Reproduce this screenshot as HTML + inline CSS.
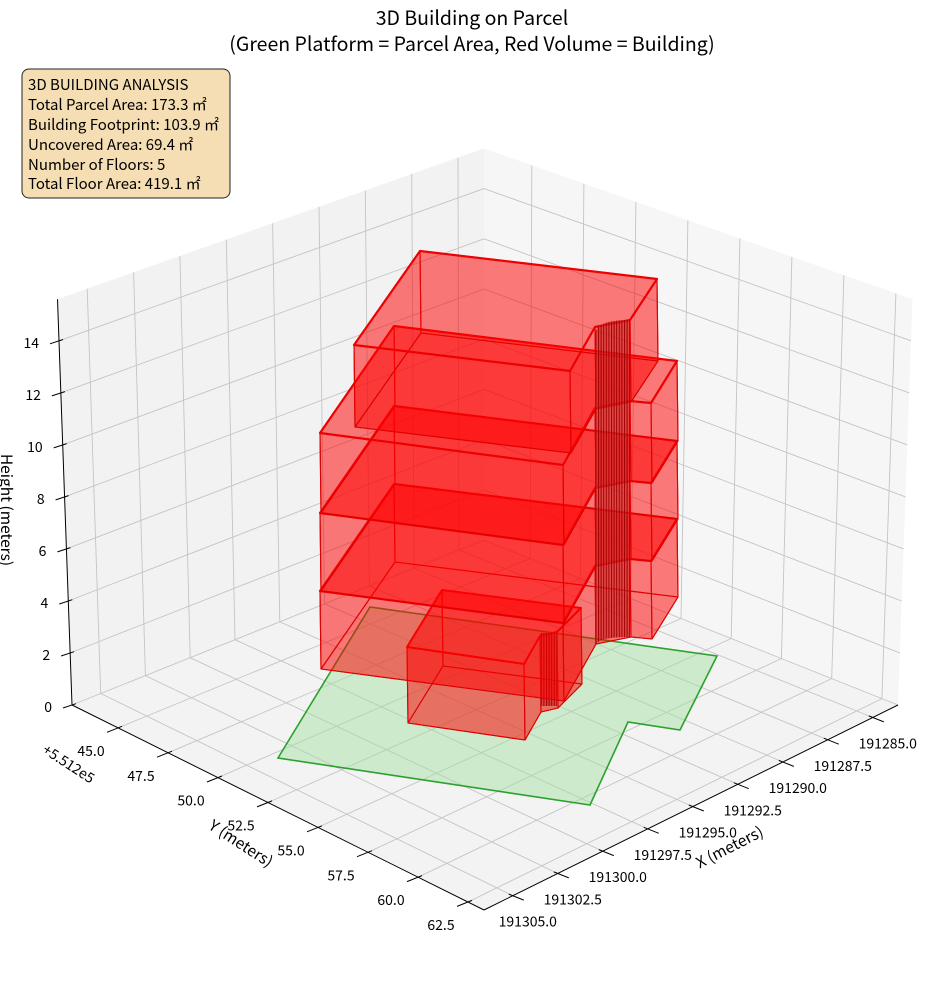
<!DOCTYPE html>
<html><head><meta charset="utf-8">
<style>
html,body{margin:0;padding:0;background:#fff;}
svg{display:block;font-family:"Noto Sans CJK JP","Liberation Sans",sans-serif;}
</style></head>
<body>
<svg id="s" width="944" height="992" viewBox="0 0 944 992" xmlns="http://www.w3.org/2000/svg">
<defs>
<pattern id="stripes" width="2.6" height="10" patternUnits="userSpaceOnUse">
<rect width="2.6" height="10" fill="rgba(210,40,40,0.6)"/>
<rect width="1" height="10" fill="#a00000"/>
</pattern>
</defs>
<g id="panes"></g>
<g id="grid" stroke="#c4c4c4" stroke-width="0.9" fill="none"></g>
<g id="axes"></g>

<polygon points="370,607 717,656 680,730 628,722 590,805 278,758" fill="rgba(160,225,160,0.45)" stroke="#2ca02c" stroke-width="1.6"/>

<g id="bld" stroke-linejoin="round"></g>

<text x="472" y="25" text-anchor="middle" font-size="19.5" fill="#000">3D Building on Parcel</text>
<text x="472" y="51" text-anchor="middle" font-size="19.5" fill="#000">(Green Platform = Parcel Area, Red Volume = Building)</text>

<rect x="22" y="69" width="208" height="129" rx="7" ry="7" fill="#f5deb3" stroke="#222" stroke-width="1"/>
<g font-size="15" fill="#000">
<text x="28" y="90">3D BUILDING ANALYSIS</text>
<text x="28" y="110">Total Parcel Area: 173.3 ㎡</text>
<text x="28" y="130">Building Footprint: 103.9 ㎡</text>
<text x="28" y="150">Uncovered Area: 69.4 ㎡</text>
<text x="28" y="170">Number of Floors: 5</text>
<text x="28" y="189">Total Floor Area: 419.1 ㎡</text>
</g>

<text transform="translate(1,510) rotate(90)" text-anchor="middle" font-size="15.5">Height (meters)</text>
<text transform="translate(238,848) rotate(33)" text-anchor="middle" font-size="15.5">Y (meters)</text>
<text transform="translate(732,852) rotate(-27)" text-anchor="middle" font-size="15.5">X (meters)</text>
<text transform="translate(66,768) rotate(33)" text-anchor="middle" font-size="14">+5.512e5</text>
</svg>
<script>
(function(){
var NS="http://www.w3.org/2000/svg";
function el(tag,attrs,parent,txt){var e=document.createElementNS(NS,tag);for(var k in attrs)e.setAttribute(k,attrs[k]);if(txt!==undefined)e.textContent=txt;parent.appendChild(e);return e;}
var L=[72,705],F=[484,910],R=[898,705],B=[484,540];
var ymin=42.7,ymax=63.3,xmin=191283.6,xmax=191306.6,zmax=15.6;
function P(x,y,z){
 var u=(y-ymin)/(ymax-ymin), v=(xmax-x)/(xmax-xmin);
 var px=(1-u)*(1-v)*L[0]+u*(1-v)*F[0]+u*v*R[0]+(1-u)*v*B[0];
 var py=(1-u)*(1-v)*L[1]+u*(1-v)*F[1]+u*v*R[1]+(1-u)*v*B[1];
 var f=1+0.00022*(py-540);
 return [px+(px-484)*0.00225*z, py-z*25.1*f];
}
function pts(a){return a.map(function(p){return p[0].toFixed(1)+","+p[1].toFixed(1);}).join(" ");}
var panes=document.getElementById("panes"),grid=document.getElementById("grid"),axes=document.getElementById("axes");
el("polygon",{points:pts([P(xmax,ymin,0),P(xmin,ymin,0),P(xmin,ymin,zmax),P(xmax,ymin,zmax)]),fill:"#f2f2f2"},panes);
el("polygon",{points:pts([P(xmin,ymin,0),P(xmin,ymax,0),P(xmin,ymax,zmax),P(xmin,ymin,zmax)]),fill:"#f6f6f6"},panes);
el("polygon",{points:pts([P(xmax,ymin,0),P(xmax,ymax,0),P(xmin,ymax,0),P(xmin,ymin,0)]),fill:"#f3f3f3"},panes);
function line(a,b,g,attrs){var o={x1:a[0].toFixed(1),y1:a[1].toFixed(1),x2:b[0].toFixed(1),y2:b[1].toFixed(1)};for(var k in attrs)o[k]=attrs[k];el("line",o,g);}
var xt=[],yt=[],zt=[];
for(var x=191285;x<=191305;x+=2.5)xt.push(x);
for(var y=45;y<=62.5;y+=2.5)yt.push(y);
for(var z=0;z<=14;z+=2)zt.push(z);
xt.forEach(function(x){line(P(x,ymin,0),P(x,ymin,zmax),grid);line(P(x,ymin,0),P(x,ymax,0),grid);});
yt.forEach(function(y){line(P(xmin,y,0),P(xmin,y,zmax),grid);line(P(xmax,y,0),P(xmin,y,0),grid);});
zt.forEach(function(z){line(P(xmax,ymin,z),P(xmin,ymin,z),grid);line(P(xmin,ymin,z),P(xmin,ymax,z),grid);});
var ax={stroke:"#000","stroke-width":"1"};
line(P(xmax,ymin,0),P(xmax,ymin,zmax),axes,ax);
line(P(xmax,ymin,0),P(xmax,ymax,0),axes,ax);
line(P(xmax,ymax,0),P(xmin,ymax,0),axes,ax);
zt.forEach(function(z){var p=P(xmax,ymin,z);line([p[0]-9,p[1]+3],[p[0]+4,p[1]-1.3],axes,ax);
 el("text",{x:(p[0]-20).toFixed(1),y:(p[1]+7).toFixed(1),"text-anchor":"end","font-size":"14",fill:"#000"},axes,String(z));});
yt.forEach(function(y){var p=P(xmax,y,0);line([p[0]-11,p[1]+4.4],[p[0]+4,p[1]-1.6],axes,ax);
 el("text",{x:(p[0]-27).toFixed(1),y:(p[1]+28).toFixed(1),"text-anchor":"middle","font-size":"14",fill:"#000"},axes,y.toFixed(1));});
xt.forEach(function(x){var p=P(x,ymax,0);line([p[0]-4,p[1]-1.6],[p[0]+11,p[1]+4.4],axes,ax);
 el("text",{x:(p[0]+15).toFixed(1),y:(p[1]+31).toFixed(1),"text-anchor":"middle","font-size":"14",fill:"#000"},axes,x.toFixed(1));});

var bld=document.getElementById("bld");
var FILL="rgba(255,0,0,0.30)";
function prism(fp,dyTop,dyBot,sw){
 var top=fp.map(function(p){return [p[0],p[1]+dyTop];});
 var bot=fp.map(function(p){return [p[0]+1,p[1]+dyBot];});
 el("polygon",{points:pts(bot),fill:FILL,stroke:"#e00000","stroke-width":"1.1"},bld);
 for(var i=0;i<fp.length;i++){var j=(i+1)%fp.length;
  el("polygon",{points:pts([top[i],top[j],bot[j],bot[i]]),fill:FILL,stroke:"#e00000","stroke-width":"1.1"},bld);}
 el("polygon",{points:pts(top),fill:FILL,stroke:"#ee0000","stroke-width":sw||"2"},bld);
}
var f1=[[407,647],[524,664],[540,636],[557,632],[581,608],[442,590]];
prism(f1,0,76,"2");
el("rect",{x:540,y:633,width:17,height:73,fill:"url(#stripes)"},bld);
var f2=[[320,433],[563,465],[595,408],[630,401],[651,403],[677,361],[394,326]];
var lv=[0,80,158,236];
for(var k=2;k>=0;k--)prism(f2,lv[k],lv[k+1],"2.2");
var f5=[[354,345],[570,371],[595,327],[630,320],[657,279],[420,251]];
prism(f5,0,82,"2.2");
el("path",{d:"M595,336 C595,325 605,320 630,320 L630,637 C606,637 595,640 595,648 Z",fill:"url(#stripes)"},bld);
})();
</script>
</body></html>
